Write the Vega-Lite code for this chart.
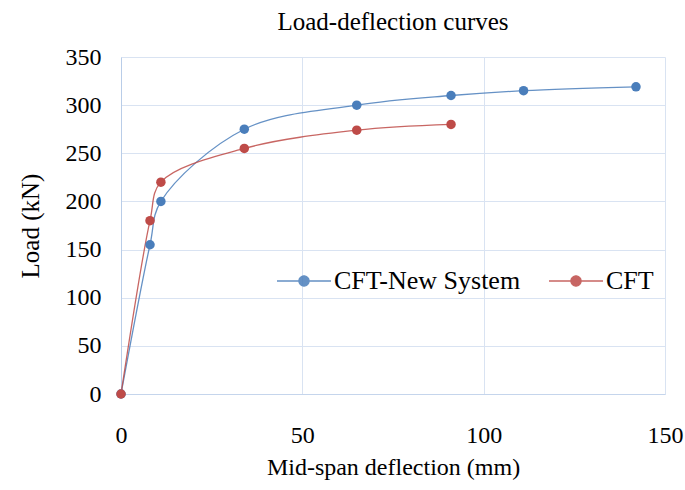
{
  "$schema": "https://vega.github.io/schema/vega-lite/v6.json",
  "autosize": "none",
  "width": 544,
  "height": 337,
  "padding": {"left": 121, "top": 57, "right": 20, "bottom": 96},
  "background": "white",
  "title": {"text": "Load-deflection curves", "font": "Liberation Serif", "fontSize": 25, "fontWeight": "normal", "color": "black", "offset": 10},
  "data": {"values": [
    {"series": "CFT-New System", "deflection": 0, "load": 0},
    {"series": "CFT-New System", "deflection": 8, "load": 155},
    {"series": "CFT-New System", "deflection": 11, "load": 200},
    {"series": "CFT-New System", "deflection": 34, "load": 275},
    {"series": "CFT-New System", "deflection": 65, "load": 300},
    {"series": "CFT-New System", "deflection": 91, "load": 310},
    {"series": "CFT-New System", "deflection": 111, "load": 315},
    {"series": "CFT-New System", "deflection": 142, "load": 319},
    {"series": "CFT", "deflection": 0, "load": 0},
    {"series": "CFT", "deflection": 8, "load": 180},
    {"series": "CFT", "deflection": 11, "load": 220},
    {"series": "CFT", "deflection": 34, "load": 255},
    {"series": "CFT", "deflection": 65, "load": 274},
    {"series": "CFT", "deflection": 91, "load": 280}
  ]},
  "encoding": {
    "x": {"field": "deflection", "type": "quantitative", "scale": {"domain": [0, 150], "nice": false},
      "axis": {"title": "Mid-span deflection (mm)", "values": [0, 50, 100, 150], "grid": true, "gridColor": "#d9e3f2", "domainColor": "#c5d5ec", "ticks": false, "labelFlush": false, "labelFont": "Liberation Serif", "labelFontSize": 24, "labelColor": "black", "labelPadding": 29, "titleFont": "Liberation Serif", "titleFontSize": 24, "titleFontWeight": "normal", "titleColor": "black", "titlePadding": 8}},
    "y": {"field": "load", "type": "quantitative", "scale": {"domain": [0, 350], "nice": false},
      "axis": {"title": "Load (kN)", "values": [0, 50, 100, 150, 200, 250, 300, 350], "grid": true, "gridColor": "#d9e3f2", "domainColor": "#b9cde8", "ticks": false, "labelFont": "Liberation Serif", "labelFontSize": 24, "labelColor": "black", "labelPadding": 20, "titleFont": "Liberation Serif", "titleFontSize": 25, "titleFontWeight": "normal", "titleColor": "black", "titlePadding": 22}},
    "color": {"field": "series", "type": "nominal", "sort": ["CFT-New System", "CFT"],
      "scale": {"domain": ["CFT-New System", "CFT"], "range": ["#4a7ebb", "#be4b48"]},
      "legend": {"title": null, "orient": "none", "legendX": 155, "legendY": 196, "direction": "horizontal",
        "symbolType": "M -1 0 H 1 M 0.19 0 A 0.19 0.19 0 1 1 -0.19 0 A 0.19 0.19 0 1 1 0.19 0 Z",
        "symbolSize": 2916, "symbolStrokeWidth": 1.3, "labelFont": "Liberation Serif", "labelFontSize": 26, "labelColor": "black", "labelOffset": 2, "columnPadding": 25, "labelLimit": 300,
        "encode": {"symbols": {"update": {"fill": {"scale": "color", "field": "value"}, "stroke": {"scale": "color", "field": "value"}, "opacity": {"value": 1}}}}}}
  },
  "layer": [
    {"mark": {"type": "line", "interpolate": "catmull-rom", "strokeWidth": 1.3, "opacity": 0.85}},
    {"mark": {"type": "point", "filled": true, "size": 90, "opacity": 1}}
  ],
  "config": {"view": {"stroke": null}}
}
